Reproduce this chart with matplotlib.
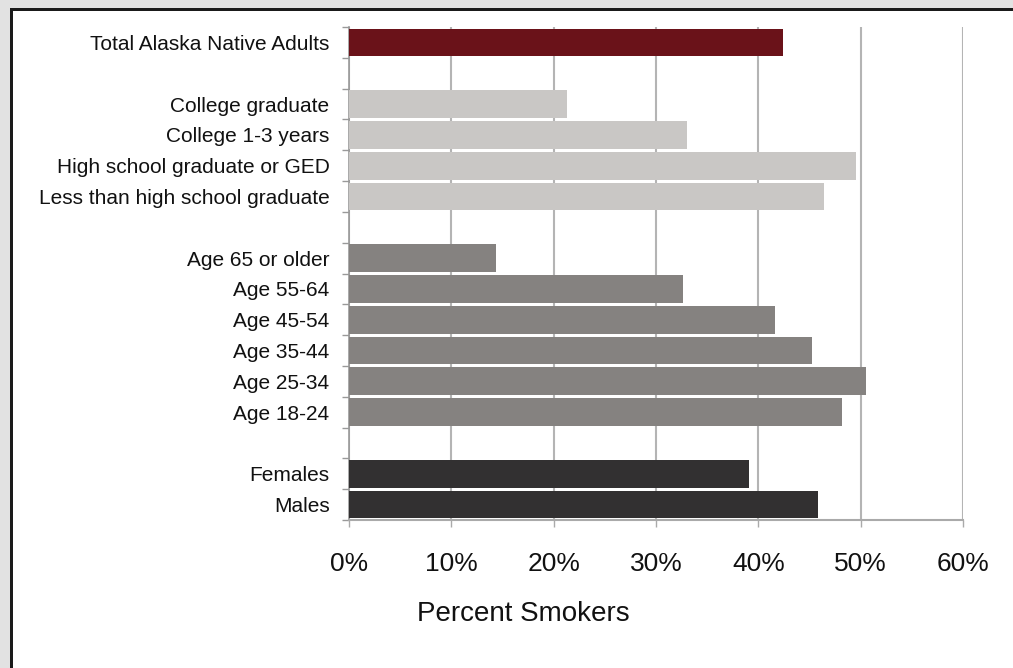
import matplotlib.pyplot as plt
from matplotlib.patches import Rectangle
from matplotlib.ticker import FixedLocator, PercentFormatter

plt.rcParams['font.family'] = ['Liberation Sans', 'DejaVu Sans']

# Smoking prevalence, Alaska Native adults (percent)
total_labels = ['Total Alaska Native Adults']
total_values = [42.4]

edu_labels = ['College graduate', 'College 1-3 years',
              'High school graduate or GED', 'Less than high school graduate']
edu_values = [21.3, 33.0, 49.5, 46.4]

age_labels = ['Age 65 or older', 'Age 55-64', 'Age 45-54',
              'Age 35-44', 'Age 25-34', 'Age 18-24']
age_values = [14.4, 32.6, 41.6, 45.2, 50.5, 48.2]

sex_labels = ['Females', 'Males']
sex_values = [39.1, 45.8]

groups = [
    (total_labels, total_values, '#6a1219'),
    (edu_labels, edu_values, '#c9c7c5'),
    (age_labels, age_values, '#858280'),
    (sex_labels, sex_values, '#323031'),
]

W, H = 1013, 668
fig = plt.figure(figsize=(W / 100, H / 100), dpi=100)
fig.patch.set_facecolor('white')

# grey frame with black inner edge (top and left)
fig.patches.append(Rectangle((0, 1 - 8 / H), 1, 8 / H, transform=fig.transFigure,
                             facecolor='#e2e2e2', edgecolor='none', zorder=0))
fig.patches.append(Rectangle((0, 0), 10 / W, 1, transform=fig.transFigure,
                             facecolor='#e2e2e2', edgecolor='none', zorder=0))
fig.patches.append(Rectangle((10 / W, 0), 3 / W, 1 - 8 / H, transform=fig.transFigure,
                             facecolor='#1a1a1a', edgecolor='none', zorder=1))
fig.patches.append(Rectangle((10 / W, 1 - 11 / H), 1 - 10 / W, 3 / H, transform=fig.transFigure,
                             facecolor='#1a1a1a', edgecolor='none', zorder=1))

ax = fig.add_axes([349 / W, 1 - 520 / H, 614 / W, 493 / H])

labels, values, colors, ypos = [], [], [], []
slot = 0
for gl, gv, gc in groups:
    for lab, val in zip(gl, gv):
        labels.append(lab)
        values.append(val)
        colors.append(gc)
        ypos.append(slot)
        slot += 1
    slot += 1  # blank slot between groups
n_slots = slot - 1

ax.barh(ypos, values, height=0.9, color=colors, edgecolor='none', zorder=3)

ax.set_ylim(n_slots - 0.5, -0.5)
ax.set_xlim(0, 60)
ax.set_yticks(ypos)
ax.set_yticklabels(labels, fontsize=15, color='#111111')
ax.tick_params(axis='y', which='major', length=0, pad=14)
ax.yaxis.set_minor_locator(FixedLocator([i - 0.5 for i in range(n_slots + 1)]))
ax.tick_params(axis='y', which='minor', length=5, width=1, color='#999999', direction='out')

ax.set_xticks(range(0, 61, 10))
ax.xaxis.set_major_formatter(PercentFormatter(decimals=0))
ax.tick_params(axis='x', length=5, width=1, color='#aaaaaa', labelsize=19,
               labelcolor='#111111', pad=18)

ax.grid(axis='x', color='#b4b4b4', linewidth=1.5, zorder=0)
ax.set_axisbelow(True)
for s in ['top', 'right']:
    ax.spines[s].set_visible(False)
ax.spines['left'].set_color('#999999')
ax.spines['left'].set_linewidth(1.2)
ax.spines['bottom'].set_color('#aaaaaa')
ax.spines['bottom'].set_linewidth(1.5)

fig.text(523 / W, 1 - 614 / H, 'Percent Smokers', fontsize=20, color='#111111',
         ha='center', va='center')

fig.savefig('out.png', dpi=100)
